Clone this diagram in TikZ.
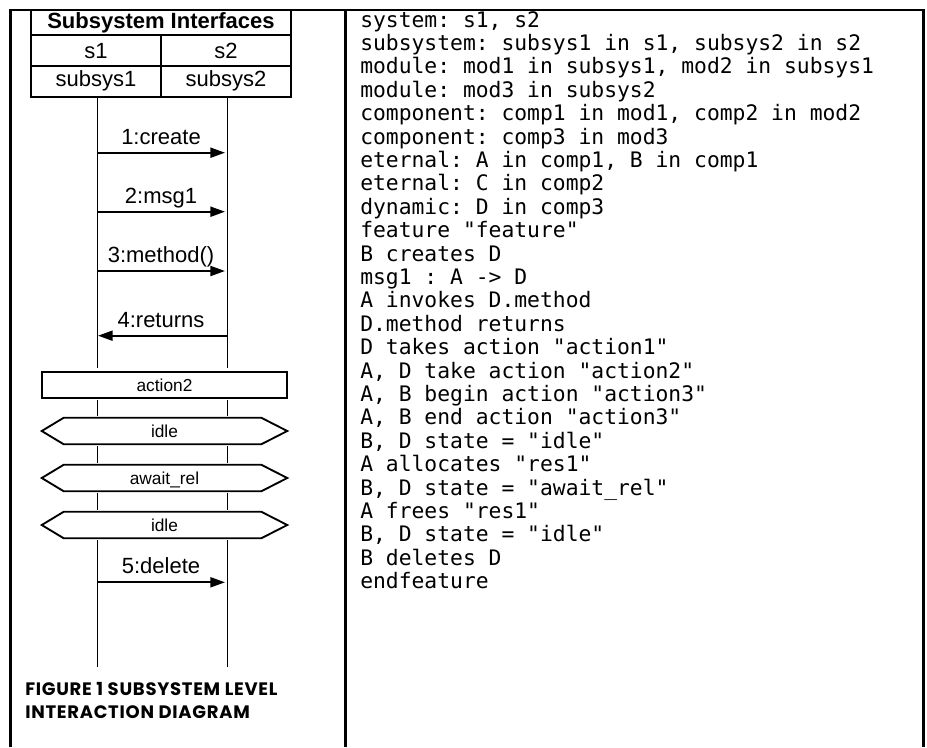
\documentclass[tikz,border=0pt]{standalone}
\usepackage{fontspec}
\setmainfont{Liberation Sans}
\setmonofont{DejaVu Sans Mono}
\newfontfamily\capfont{Poppins}[LetterSpace=4]
\usetikzlibrary{arrows.meta}
\tikzset{
  frame/.style={line width=1.7pt},
  cell/.style={draw, line width=1.5pt, inner sep=0pt, outer sep=0pt, font=\fontsize{16.5}{18}\selectfont},
  life/.style={line width=0.75pt},
  msg/.style={line width=1.5pt, -{Triangle[length=11pt,width=7.5pt]}},
  msglbl/.style={anchor=base, inner sep=0pt, font=\fontsize{16.5}{18}\selectfont},
  actbox/.style={draw, line width=1.7pt, minimum width=183.75pt, minimum height=19.5pt, inner sep=0pt, font=\fontsize{13}{15}\selectfont, text height=9.3pt, text depth=0pt},
  hexlbl/.style={minimum width=183.75pt, minimum height=19.5pt, inner sep=0pt, font=\fontsize{13}{15}\selectfont, text height=9.3pt, text depth=0pt},
  hexline/.style={line width=1.4pt, line join=miter},
  code/.style={anchor=base west, inner sep=0pt, font=\ttfamily\fontsize{16}{18}\selectfont},
  captxt/.style={anchor=base west, inner sep=0pt, font=\capfont\bfseries\fontsize{13.5}{15}\selectfont}
}
\begin{document}
\begin{tikzpicture}[x=0.75pt,y=-0.75pt]
\useasboundingbox (0,0) rectangle (927,747);
% outer frame
\draw[frame] (10.5,747) -- (10.5,10) -- (923.5,10) -- (923.5,747);
\draw[frame] (345.5,10) -- (345.5,747);
% table
\node[cell, font=\bfseries\fontsize{16.5}{18}\selectfont, minimum width=195pt, minimum height=19.1pt] (title) at (161,22.75) {Subsystem Interfaces};
\node[cell, minimum width=97.5pt, minimum height=22.9pt] (s1) at (96,50.75) {s1};
\node[cell, minimum width=97.5pt, minimum height=22.9pt] (s2) at (226,50.75) {s2};
\node[cell, minimum width=97.5pt, minimum height=22.9pt] (ss1) at (96,81.25) {subsys1};
\node[cell, minimum width=97.5pt, minimum height=22.9pt] (ss2) at (226,81.25) {subsys2};
% action and states
\node[actbox] (act) at (164.5,385) {action2};
\node[hexlbl] (st1) at (164.5,431) {idle};
\node[hexlbl] (st2) at (164.5,478) {await\_rel};
\node[hexlbl] (st3) at (164.5,525) {idle};
\foreach \s in {st1,st2,st3}{
  \draw[hexline] (\s.west) -- ([xshift=16.5pt]\s.north west) -- ([xshift=-19.5pt]\s.north east) -- (\s.east) -- ([xshift=-19.5pt]\s.south east) -- ([xshift=16.5pt]\s.south west) -- cycle;
}
% lifelines
\foreach \x/\n in {97/a,227/b}{
  \coordinate (\n0) at (\x,96.5);
  \coordinate (\n1) at (\x,368);
  \coordinate (\n2) at (\x,400);
  \coordinate (\n3) at (\x,416);
  \coordinate (\n4) at (\x,446);
  \coordinate (\n5) at (\x,463);
  \coordinate (\n6) at (\x,493);
  \coordinate (\n7) at (\x,510);
  \coordinate (\n8) at (\x,540);
  \coordinate (\n9) at (\x,667);
  \draw[life] (\n0) -- (\n1) (\n2) -- (\n3) (\n4) -- (\n5) (\n6) -- (\n7) (\n8) -- (\n9);
}
% messages
\coordinate (m1a) at (97,152.7); \coordinate (m1b) at (225,152.7);
\coordinate (m2a) at (97,211.7); \coordinate (m2b) at (225,211.7);
\coordinate (m3a) at (97,271);   \coordinate (m3b) at (225,271);
\coordinate (m4a) at (98,335.7); \coordinate (m4b) at (227,335.7);
\coordinate (m5a) at (97,582.3); \coordinate (m5b) at (225,582.3);
\draw[msg] (m1a) -- (m1b);
\draw[msg] (m2a) -- (m2b);
\draw[msg] (m3a) -- (m3b);
\draw[msg] (m4b) -- (m4a);
\draw[msg] (m5a) -- (m5b);
\node[msglbl] (l1) at (161,144.5) {1:create};
\node[msglbl] (l2) at (161,203.5) {2:msg1};
\node[msglbl] (l3) at (161,262) {3:method()};
\node[msglbl] (l4) at (161,327) {4:returns};
\node[msglbl] (l5) at (161,573) {5:delete};
% caption
\node[captxt] (cap1) at (25,695) {FIGURE 1 SUBSYSTEM LEVEL};
\node[captxt] (cap2) at (25,718.5) {INTERACTION DIAGRAM};
% code text
\foreach \t [count=\i from 0] in {
 {system: s1, s2},
 {subsystem: subsys1 in s1, subsys2 in s2},
 {module: mod1 in subsys1, mod2 in subsys1},
 {module: mod3 in subsys2},
 {component: comp1 in mod1, comp2 in mod2},
 {component: comp3 in mod3},
 {eternal: A in comp1, B in comp1},
 {eternal: C in comp2},
 {dynamic: D in comp3},
 {feature "feature"},
 {B creates D},
 {msg1 : A -> D},
 {A invokes D.method},
 {D.method returns},
 {D takes action "action1"},
 {A, D take action "action2"},
 {A, B begin action "action3"},
 {A, B end action "action3"},
 {B, D state = "idle"},
 {A allocates "res1"},
 {B, D state = "await\_rel"},
 {A frees "res1"},
 {B, D state = "idle"},
 {B deletes D},
 {endfeature}}{
  \node[code] (c\i) at (360,27+23.4*\i) {\t};
}
\end{tikzpicture}
\end{document}
